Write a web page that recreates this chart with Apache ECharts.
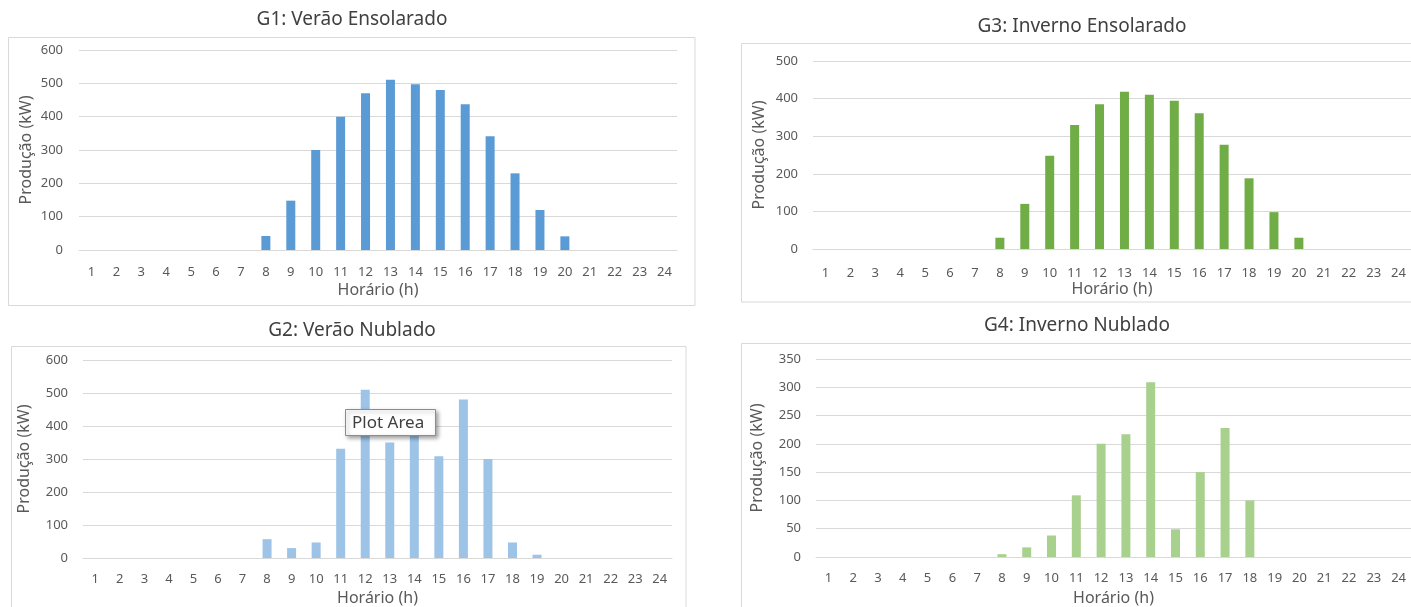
<!DOCTYPE html>
<html>
<head>
<meta charset="utf-8">
<script src="https://cdn.jsdelivr.net/npm/echarts@6/dist/echarts.min.js"></script>
<style>
  html, body { margin: 0; padding: 0; background: #ffffff; }
  #chart { width: 1411px; height: 607px; }
</style>
</head>
<body>
<div id="chart"></div>
<script>
// ---- Data ----
const hours = ['1','2','3','4','5','6','7','8','9','10','11','12','13','14','15','16','17','18','19','20','21','22','23','24'];
const g1Title = 'G1: Verão Ensolarado';
const g2Title = 'G2: Verão Nublado';
const g3Title = 'G3: Inverno Ensolarado';
const g4Title = 'G4: Inverno Nublado';
const g1Values = [0,0,0,0,0,0,0,42,148,300,400,470,511,497,480,437,341,230,120,41,0,0,0,0];
const g2Values = [0,0,0,0,0,0,0,57,30,47,331,510,350,370,308,480,300,47,10,0,0,0,0,0];
const g3Values = [0,0,0,0,0,0,0,30,120,248,330,385,418,410,394,361,277,188,98,30,0,0,0,0];
const g4Values = [0,0,0,0,0,0,0,5,17,38,109,200,217,309,49,150,228,100,0,0,0,0,0,0];
const yTitle = 'Produção (kW)';
const xTitle = 'Horário (h)';
const tooltipText = 'Plot Area';

const FONT = 'Noto Sans';
const GRID_C = '#d9d9d9';
const TXT = '#595959';

const panels = [
  { title: g1Title, data: g1Values, color: '#5b9bd5', max: 600, interval: 100,
    grid: { left: 79, top: 50, width: 598, height: 200 }, tx: 352, ty: 20,
    yGap: 45, xGap: 32, xMargin: 16, yMargin: 16 },
  { title: g2Title, data: g2Values, color: '#9dc3e6', max: 600, interval: 100,
    grid: { left: 83, top: 360, width: 589, height: 199 }, tx: 352, ty: 331,
    yGap: 51, xGap: 32, xMargin: 15, yMargin: 15 },
  { title: g3Title, data: g3Values, color: '#70ad47', max: 500, interval: 100,
    grid: { left: 813, top: 61, width: 598, height: 188 }, tx: 1082, ty: 27,
    yGap: 46, xGap: 32, xMargin: 18, yMargin: 15 },
  { title: g4Title, data: g4Values, color: '#a9d18e', max: 350, interval: 50,
    grid: { left: 816, top: 359, width: 595, height: 198 }, tx: 1077, ty: 326,
    yGap: 51, xGap: 33, xMargin: 15, yMargin: 15 }
];

const chart = echarts.init(document.getElementById('chart'), null, { renderer: 'canvas' });

const borders = [
  { x: 8.5, y: 37.5, width: 686.5, height: 268 },
  { x: 11.5, y: 346.5, width: 674.5, height: 300 },
  { x: 741.5, y: 43.5, width: 720, height: 258.5 },
  { x: 741.5, y: 343.5, width: 720, height: 300 }
];

const graphics = [];
borders.forEach(b => graphics.push({ type: 'rect', z: -1, shape: b,
  style: { fill: 'none', stroke: GRID_C, lineWidth: 1 } }));
panels.forEach(p => graphics.push({ type: 'text', x: p.tx, y: p.ty,
  style: { text: p.title, fontFamily: FONT, fontSize: 19, fill: '#404040',
    align: 'center', verticalAlign: 'middle', textAlign: 'center', textVerticalAlign: 'middle' } }));
graphics.push({ type: 'rect', z: 100, shape: { x: 345.5, y: 409.5, width: 90, height: 26 },
  style: { fill: '#ffffff', stroke: '#8c8c8c', lineWidth: 1,
    shadowBlur: 4, shadowOffsetX: 2, shadowOffsetY: 2, shadowColor: 'rgba(0,0,0,0.35)' } });
graphics.push({ type: 'text', z: 101, x: 352, y: 423,
  style: { text: tooltipText, fontFamily: FONT, fontSize: 17, fill: '#404040',
    verticalAlign: 'middle', textVerticalAlign: 'middle' } });

const option = {
  backgroundColor: '#ffffff',
  animation: false,
  textStyle: { fontFamily: FONT },
  grid: panels.map(p => Object.assign({ containLabel: false }, p.grid)),
  xAxis: panels.map((p, i) => ({
    type: 'category', gridIndex: i, data: hours,
    name: xTitle, nameLocation: 'middle', nameGap: p.xGap,
    nameTextStyle: { fontFamily: FONT, fontSize: 16, color: TXT },
    axisLine: { show: true, lineStyle: { color: GRID_C, width: 1 } },
    axisTick: { show: false },
    axisLabel: { interval: 0, margin: p.xMargin, fontFamily: FONT, fontSize: 13, color: TXT }
  })),
  yAxis: panels.map((p, i) => ({
    type: 'value', gridIndex: i, min: 0, max: p.max, interval: p.interval,
    name: yTitle, nameLocation: 'middle', nameGap: p.yGap, nameRotate: 90,
    nameTextStyle: { fontFamily: FONT, fontSize: 16, color: TXT },
    axisLine: { show: false }, axisTick: { show: false },
    splitLine: { show: true, lineStyle: { color: GRID_C, width: 1 } },
    axisLabel: { margin: p.yMargin, fontFamily: FONT, fontSize: 13, color: TXT }
  })),
  series: panels.map((p, i) => ({
    type: 'bar', xAxisIndex: i, yAxisIndex: i, data: p.data,
    barWidth: 9, itemStyle: { color: p.color }, silent: true
  })),
  graphic: graphics
};
chart.setOption(option);
</script>
</body>
</html>
